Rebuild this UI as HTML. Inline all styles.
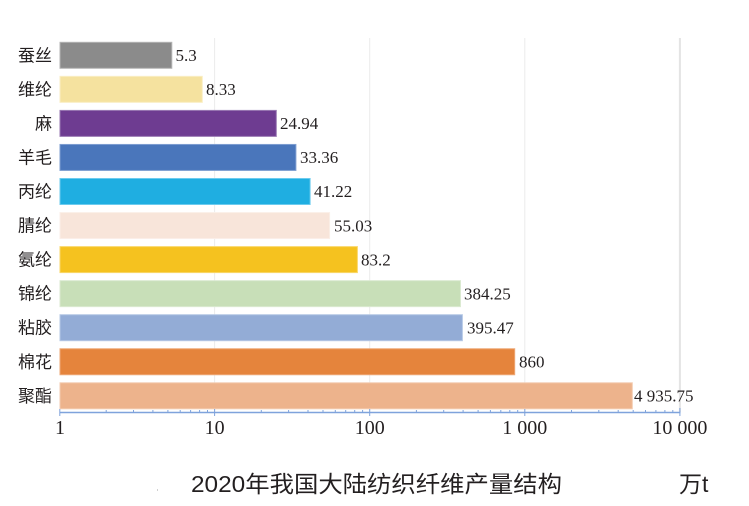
<!DOCTYPE html>
<html><head><meta charset="utf-8"><style>
html,body{margin:0;padding:0;background:#fff;}
svg{display:block;}
.cat{font-family:"Liberation Sans","Noto Sans CJK SC",sans-serif;font-size:17px;fill:#231f20;text-anchor:end;}
.val{font-family:"Liberation Serif","Noto Serif CJK SC",serif;font-size:17px;fill:#231f20;}
.tick{font-family:"Liberation Serif",serif;font-size:20px;fill:#231f20;text-anchor:middle;}
.title{font-family:"Liberation Sans","Noto Sans CJK SC",sans-serif;font-size:23px;fill:#231f20;}
</style></head><body>
<svg width="749" height="506" viewBox="0 0 749 506" xmlns="http://www.w3.org/2000/svg">
<rect width="749" height="506" fill="#fff"/>
<!-- gridlines -->
<line x1="214.6" y1="38" x2="214.6" y2="412" stroke="#ebebeb" stroke-width="1"/>
<line x1="369.7" y1="38" x2="369.7" y2="412" stroke="#ebebeb" stroke-width="1"/>
<line x1="524.8" y1="38" x2="524.8" y2="412" stroke="#ebebeb" stroke-width="1"/>
<line x1="679.9" y1="38" x2="679.9" y2="412" stroke="#e4e4e4" stroke-width="2"/>

<!-- bars: x(v)=59.5+155.1*log10(v) -->
<g stroke-width="1">
<rect x="60" y="42.3" width="111.8" height="26" fill="#8b8b8b" stroke="#b4b4b4"/>
<rect x="60" y="76.35" width="142.3" height="26" fill="#f5e29f" stroke="#faeec4"/>
<rect x="60" y="110.4" width="216.3" height="26" fill="#6e3c91" stroke="#9a7ab3"/>
<rect x="60" y="144.45" width="235.9" height="26" fill="#4a76bb" stroke="#7f9fd1"/>
<rect x="60" y="178.5" width="250.1" height="26" fill="#1faee1" stroke="#6ccbee"/>
<rect x="60" y="212.55" width="269.6" height="26" fill="#f8e5da" stroke="#fbefe8"/>
<rect x="60" y="246.6" width="297.4" height="26" fill="#f5c21f" stroke="#f9d76a"/>
<rect x="60" y="280.65" width="400.5" height="26" fill="#c8dfb8" stroke="#dbead1"/>
<rect x="60" y="314.7" width="402.4" height="26" fill="#93acd6" stroke="#b6c8e5"/>
<rect x="60" y="348.75" width="454.7" height="26" fill="#e5843c" stroke="#eea877"/>
<rect x="60" y="382.8" width="572.3" height="26" fill="#edb38c" stroke="#f3cbb0"/>
</g>

<!-- category labels -->
<text class="cat" x="52" y="61.3">蚕丝</text>
<text class="cat" x="52" y="95.35">维纶</text>
<text class="cat" x="52" y="129.4">麻</text>
<text class="cat" x="52" y="163.45">羊毛</text>
<text class="cat" x="52" y="197.5">丙纶</text>
<text class="cat" x="52" y="231.55">腈纶</text>
<text class="cat" x="52" y="265.6">氨纶</text>
<text class="cat" x="52" y="299.65">锦纶</text>
<text class="cat" x="52" y="333.7">粘胶</text>
<text class="cat" x="52" y="367.75">棉花</text>
<text class="cat" x="52" y="401.8">聚酯</text>

<!-- value labels -->
<text class="val" x="175.5" y="61">5.3</text>
<text class="val" x="206" y="95.05">8.33</text>
<text class="val" x="280" y="129.1">24.94</text>
<text class="val" x="300" y="163.15">33.36</text>
<text class="val" x="314" y="197.2">41.22</text>
<text class="val" x="334" y="231.25">55.03</text>
<text class="val" x="361" y="265.3">83.2</text>
<text class="val" x="464" y="299.35">384.25</text>
<text class="val" x="467" y="333.4">395.47</text>
<text class="val" x="519" y="367.45">860</text>
<text class="val" x="634" y="401.5">4 935.75</text>

<!-- axis -->
<line x1="59.5" y1="412.5" x2="680.5" y2="412.5" stroke="#7fa3dc" stroke-width="1.5"/>
<g stroke="#7fa3dc" stroke-width="1">
<line x1="59.8" y1="409" x2="59.8" y2="416"/>
<line x1="214.6" y1="409" x2="214.6" y2="416"/>
<line x1="369.7" y1="409" x2="369.7" y2="416"/>
<line x1="524.8" y1="409" x2="524.8" y2="416"/>
<line x1="679.9" y1="408" x2="679.9" y2="416"/>
<!-- minor ticks -->
<line x1="106.2" y1="410" x2="106.2" y2="412"/><line x1="133.5" y1="410" x2="133.5" y2="412"/><line x1="152.9" y1="410" x2="152.9" y2="412"/><line x1="167.9" y1="410" x2="167.9" y2="412"/><line x1="180.2" y1="410" x2="180.2" y2="412"/><line x1="190.6" y1="410" x2="190.6" y2="412"/><line x1="199.6" y1="410" x2="199.6" y2="412"/><line x1="207.5" y1="410" x2="207.5" y2="412"/>
<line x1="261.3" y1="410" x2="261.3" y2="412"/><line x1="288.6" y1="410" x2="288.6" y2="412"/><line x1="308.0" y1="410" x2="308.0" y2="412"/><line x1="323.0" y1="410" x2="323.0" y2="412"/><line x1="335.3" y1="410" x2="335.3" y2="412"/><line x1="345.7" y1="410" x2="345.7" y2="412"/><line x1="354.7" y1="410" x2="354.7" y2="412"/><line x1="362.6" y1="410" x2="362.6" y2="412"/>
<line x1="416.4" y1="410" x2="416.4" y2="412"/><line x1="443.7" y1="410" x2="443.7" y2="412"/><line x1="463.1" y1="410" x2="463.1" y2="412"/><line x1="478.1" y1="410" x2="478.1" y2="412"/><line x1="490.4" y1="410" x2="490.4" y2="412"/><line x1="500.8" y1="410" x2="500.8" y2="412"/><line x1="509.8" y1="410" x2="509.8" y2="412"/><line x1="517.7" y1="410" x2="517.7" y2="412"/>
<line x1="571.5" y1="410" x2="571.5" y2="412"/><line x1="598.8" y1="410" x2="598.8" y2="412"/><line x1="618.2" y1="410" x2="618.2" y2="412"/><line x1="633.2" y1="410" x2="633.2" y2="412"/><line x1="645.5" y1="410" x2="645.5" y2="412"/><line x1="655.9" y1="410" x2="655.9" y2="412"/><line x1="664.9" y1="410" x2="664.9" y2="412"/><line x1="672.8" y1="410" x2="672.8" y2="412"/>
</g>

<!-- tick labels -->
<text class="tick" x="60" y="434">1</text>
<text class="tick" x="214.6" y="434">10</text>
<text class="tick" x="369.7" y="434">100</text>
<text class="tick" x="524.8" y="434">1 000</text>
<text class="tick" x="679.9" y="434">10 000</text>

<!-- title -->
<rect x="157" y="489" width="1" height="2" fill="#d0d0d0"/>
<text class="title" x="191" y="492" textLength="371" lengthAdjust="spacingAndGlyphs">2020年我国大陆纺织纤维产量结构</text>
<text class="title" x="679" y="492">万t</text>
</svg>
</body></html>
